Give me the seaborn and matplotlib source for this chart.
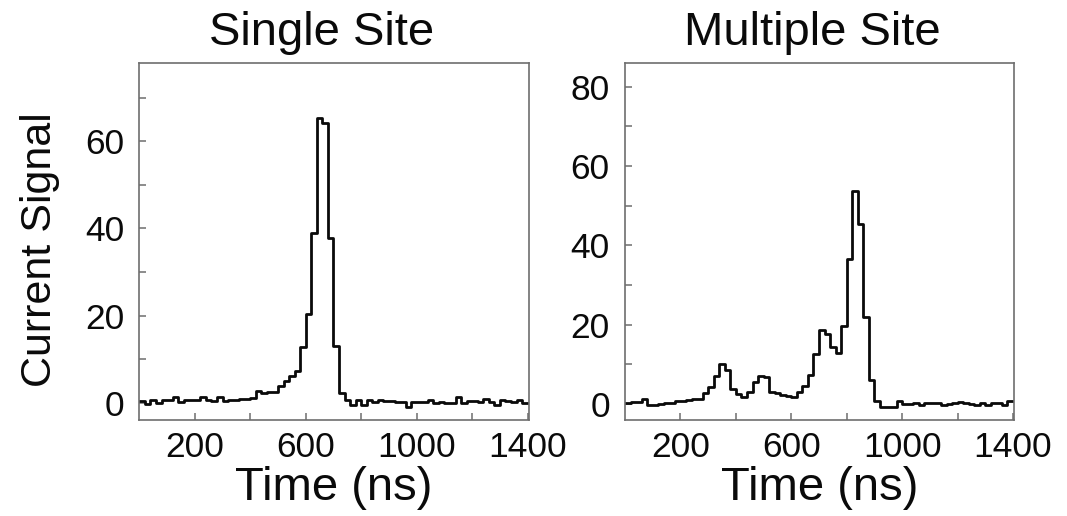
import numpy as np
import pandas as pd
import matplotlib
matplotlib.use("Agg")
import matplotlib.pyplot as plt
import seaborn as sns

# ---------------- data ----------------
bin_width = 20  # ns
bin_starts = list(range(0, 1400, 20))

single_site = [
    0.3, -0.3, 0.6, -0.1, 0.5, 0.6, 1.3, 0.2, 0.5, 0.7,
    0.7, 1.2, 0.6, 0.4, 1.2, 0.3, 0.6, 0.7, 0.8, 0.8,
    1.0, 2.7, 2.2, 2.4, 2.5, 3.7, 5.0, 6.2, 7.3, 12.7,
    20.3, 39.0, 65.3, 64.3, 37.8, 12.9, 2.1, 0.6, -0.5, 0.5,
    -0.5, 0.5, 0.2, 0.6, 0.4, 0.3, 0.1, 0.1, -0.9, 0.2,
    0.2, 0.2, 0.7, -0.1, 0.1, -0.1, -0.2, 1.3, 0.0, 0.3,
    0.4, 0.1, 0.9, 0.2, -0.5, 0.5, 0.4, 0.2, 0.5, -0.1,
]

multiple_site = [
    0.2, 0.6, 0.6, 1.4, -0.1, -0.1, 0.0, 0.2, 0.4, 0.7,
    0.8, 1.0, 1.4, 1.2, 2.9, 4.4, 7.2, 10.0, 8.7, 3.7,
    2.6, 1.9, 3.1, 5.6, 7.2, 6.9, 3.1, 2.7, 2.3, 2.0,
    1.9, 3.1, 4.5, 7.3, 12.6, 18.7, 17.7, 14.3, 13.0, 19.8,
    36.6, 53.8, 45.4, 21.9, 6.2, 0.8, -0.6, -0.6, -0.6, 0.7,
    0.1, 0.1, 0.4, -0.1, 0.3, 0.3, 0.3, -0.1, 0.0, 0.3,
    0.5, 0.2, 0.0, -0.1, 0.4, -0.1, 0.3, 0.3, -0.1, 0.7,
]

titles = ["Single Site", "Multiple Site"]
x_ticks = [200, 400, 600, 800, 1000, 1200, 1400]
x_tick_labels = ["200", "", "600", "", "1000", "", "1400"]
left_y_ticks = [0, 10, 20, 30, 40, 50, 60, 70]
left_y_tick_labels = ["0", "", "20", "", "40", "", "60", ""]
right_y_ticks = [0, 10, 20, 30, 40, 50, 60, 70, 80]
right_y_tick_labels = ["0", "", "20", "", "40", "", "60", "", "80"]
x_label = "Time (ns)"
y_label = "Current Signal"

# ---------------- style ----------------
sns.set_theme(style="ticks")
plt.rcParams["font.family"] = ["Liberation Sans", "DejaVu Sans"]

frame_color = "#6e6e6e"
line_color = "#0a0a0a"
text_color = "#0a0a0a"

fig = plt.figure(figsize=(10.67, 5.16), dpi=100)
ax1 = fig.add_axes([0.1306, 0.186, 0.3652, 0.6919])
ax2 = fig.add_axes([0.5858, 0.186, 0.3649, 0.6919])

edges = bin_starts + [bin_starts[-1] + bin_width]
centers = [b + bin_width / 2 for b in bin_starts]

panels = [
    (ax1, single_site, left_y_ticks, left_y_tick_labels, (-4, 78), 0.467),
    (ax2, multiple_site, right_y_ticks, right_y_tick_labels, (-4, 86), 0.48),
]

for i, (ax, vals, yt, ytl, ylim, tx) in enumerate(panels):
    df = pd.DataFrame({"time": centers, "signal": vals})
    sns.histplot(data=df, x="time", weights="signal", bins=edges,
                 element="step", fill=False, color=line_color,
                 linewidth=2.0, ax=ax)
    ax.set_xlim(0, 1405)
    ax.set_ylim(*ylim)
    ax.set_xticks(x_ticks)
    ax.set_xticklabels(x_tick_labels)
    ax.set_yticks(yt)
    ax.set_yticklabels(ytl)
    ax.tick_params(axis="both", direction="in", length=5, width=1.1,
                   color=frame_color, labelsize=25.5, labelcolor=text_color)
    ax.tick_params(axis="x", pad=8)
    ax.tick_params(axis="y", pad=11)
    for sp in ax.spines.values():
        sp.set_visible(True)
        sp.set_color(frame_color)
        sp.set_linewidth(1.2)
    ax.set_xlabel(x_label, fontsize=34, color=text_color, labelpad=1)
    if i == 0:
        ax.set_ylabel(y_label, fontsize=31, color=text_color)
        ax.yaxis.set_label_coords(-0.204, 0.476)
    else:
        ax.set_ylabel("")
    ax.set_title(titles[i], fontsize=34, color=text_color, x=tx, pad=13)

fig.savefig("out.png", dpi=100, facecolor="white")
